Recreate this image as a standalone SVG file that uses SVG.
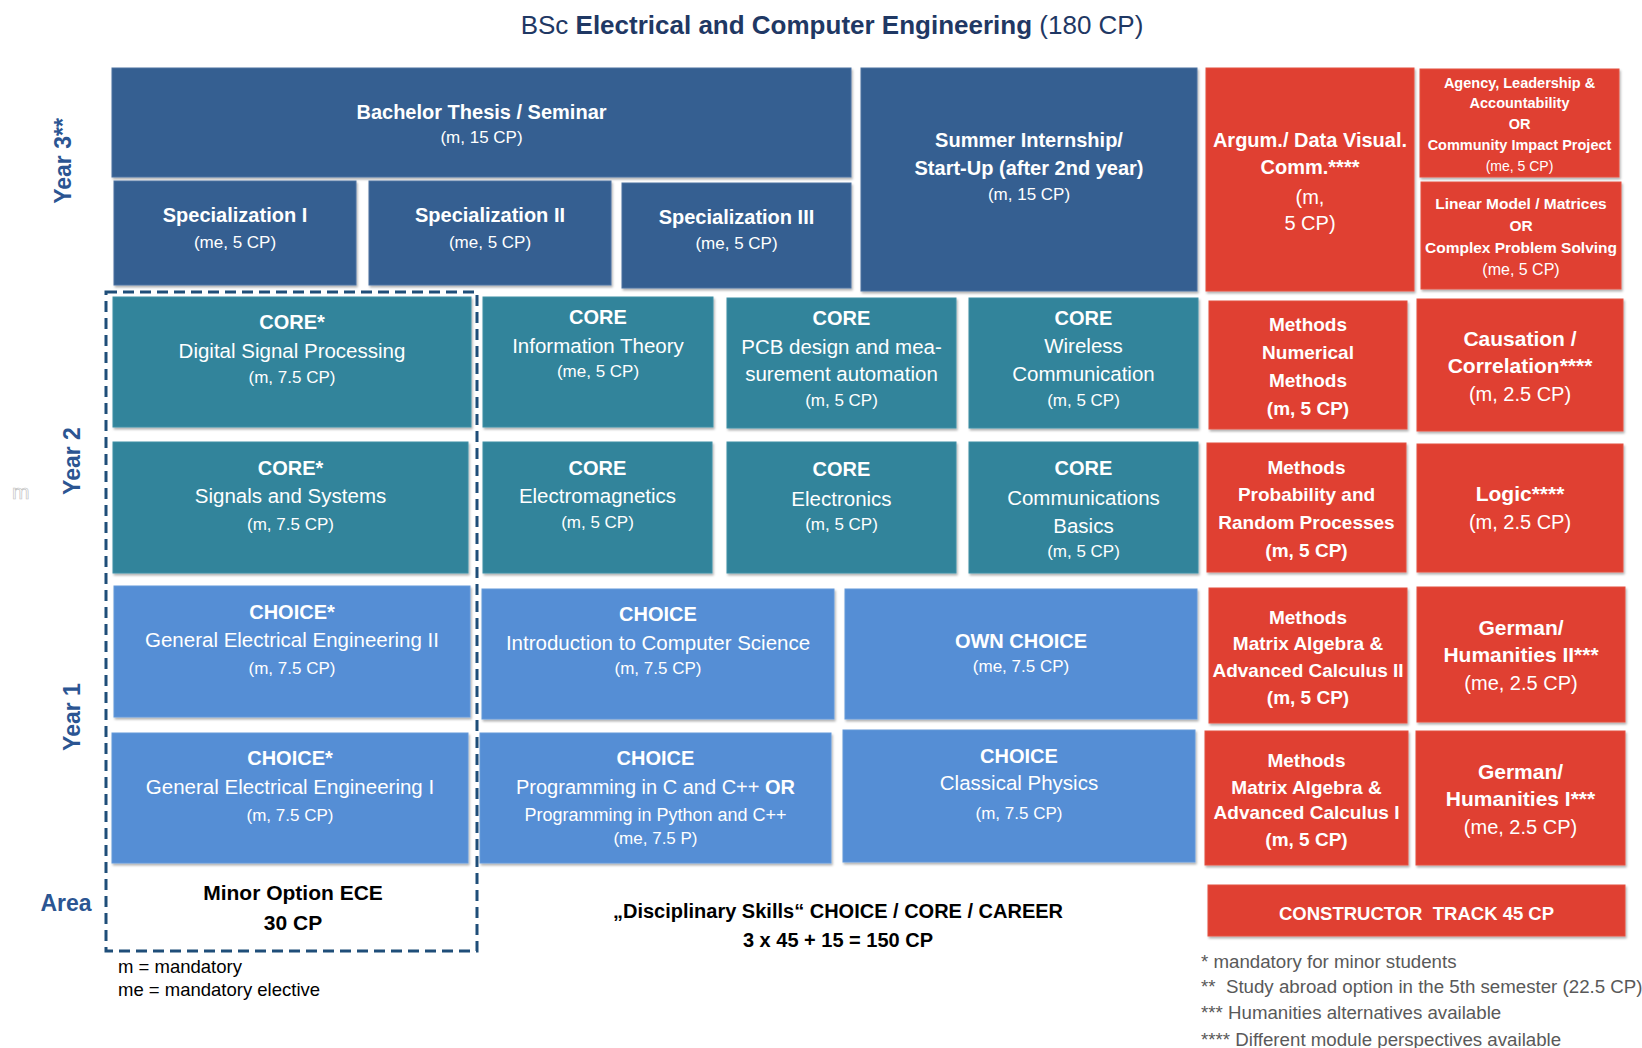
<svg xmlns="http://www.w3.org/2000/svg" width="1642" height="1048" viewBox="0 0 1642 1048">
<defs>
<filter id="sh" x="-5%" y="-5%" width="110%" height="115%">
<feDropShadow dx="1.2" dy="2" stdDeviation="0.9" flood-color="#000" flood-opacity="0.3"/>
</filter>
</defs>
<style>
text{font-family:"Liberation Sans",Arial,sans-serif;}
.box{filter:url(#sh);}
.dk{fill:#365F91;stroke:#4A72A0;stroke-width:1;}
.tl{fill:#31849B;stroke:#3E90A6;stroke-width:1;}
.lb{fill:#558ED5;stroke:#6299DA;stroke-width:1;}
.rd{fill:#E04131;stroke:#E45040;stroke-width:1;}
.w{fill:#fff;text-anchor:middle;}
.h{font-weight:bold;font-size:20px;}
.b{font-size:20.5px;}
.cp{font-size:17px;}
.rb{font-weight:bold;font-size:19px;}
.rb2{font-weight:bold;font-size:21px;}
.r20{font-size:20px;}
.yr{fill:#2B5592;font-weight:bold;font-size:23px;text-anchor:middle;}
.blk{fill:#000;font-weight:bold;text-anchor:middle;}
.note{fill:#595959;font-size:18.7px;}
.leg{fill:#000;font-size:18.5px;}
</style>

<text x="832" y="34" text-anchor="middle" font-size="26" fill="#1F3864">BSc <tspan font-weight="bold">Electrical and Computer Engineering</tspan> (180 CP)</text>

<g id="labels">
<text class="yr" transform="translate(71,161) rotate(-90)">Year 3**</text>
<text class="yr" transform="translate(80,461) rotate(-90)">Year 2</text>
<text class="yr" transform="translate(80,717) rotate(-90)">Year 1</text>
<text class="yr" x="66" y="911">Area</text>
<text x="12" y="499" font-size="21" fill="#fff" stroke="#C4C4C4" stroke-width="0.7">m</text>
</g>

<g id="minor-frame">
<rect x="106" y="292" width="371" height="659" fill="none" stroke="#1F4E79" stroke-width="3" stroke-dasharray="11 6"/>
<text class="blk" x="293" y="900" font-size="21">Minor Option ECE</text>
<text class="blk" x="293" y="930" font-size="21">30 CP</text>
</g>

<g id="thesis"><rect class="box dk" x="112" y="68" width="739" height="109"/>
<text class="w h" x="481.5" y="119">Bachelor Thesis / Seminar</text>
<text class="w cp" x="481.5" y="143">(m, 15 CP)</text></g>

<g id="spec1"><rect class="box dk" x="114" y="181" width="242" height="104"/>
<text class="w h" x="235" y="222">Specialization I</text>
<text class="w cp" x="235" y="248">(me, 5 CP)</text></g>

<g id="spec2"><rect class="box dk" x="369" y="181" width="242" height="104"/>
<text class="w h" x="490" y="222">Specialization II</text>
<text class="w cp" x="490" y="248">(me, 5 CP)</text></g>

<g id="spec3"><rect class="box dk" x="622" y="183" width="229" height="105"/>
<text class="w h" x="736.5" y="224">Specialization III</text>
<text class="w cp" x="736.5" y="249">(me, 5 CP)</text></g>

<g id="summer"><rect class="box dk" x="861" y="68" width="336" height="223"/>
<text class="w h" x="1029" y="147" font-size="20.5">Summer Internship/</text>
<text class="w h" x="1029" y="175" font-size="20.5">Start-Up (after 2nd year)</text>
<text class="w cp" x="1029" y="200">(m, 15 CP)</text></g>

<g id="argum"><rect class="box rd" x="1206" y="68" width="208" height="223"/>
<text class="w h" x="1310" y="147">Argum./ Data Visual.</text>
<text class="w h" x="1310" y="174">Comm.****</text>
<text class="w r20" x="1310" y="204">(m,</text>
<text class="w r20" x="1310" y="230">5 CP)</text></g>

<g id="agency"><rect class="box rd" x="1420" y="69" width="199" height="108"/>
<text class="w" x="1519.5" y="88" font-size="14.5" font-weight="bold">Agency, Leadership &amp;</text>
<text class="w" x="1519.5" y="108" font-size="14.5" font-weight="bold">Accountability</text>
<text class="w" x="1519.5" y="129" font-size="14.5" font-weight="bold">OR</text>
<text class="w" x="1519.5" y="150" font-size="14.5" font-weight="bold">Community Impact Project</text>
<text class="w" x="1519.5" y="171" font-size="14">(me, 5 CP)</text></g>

<g id="linear"><rect class="box rd" x="1421" y="182" width="200" height="107"/>
<text class="w" x="1521" y="209" font-size="15.5" font-weight="bold">Linear Model / Matrices</text>
<text class="w" x="1521" y="231" font-size="15.5" font-weight="bold">OR</text>
<text class="w" x="1521" y="253" font-size="15.5" font-weight="bold">Complex Problem Solving</text>
<text class="w" x="1521" y="275" font-size="16">(me, 5 CP)</text></g>

<g id="dsp"><rect class="box tl" x="113" y="297" width="358" height="130"/>
<text class="w h" x="292" y="329">CORE*</text>
<text class="w b" x="292" y="358">Digital Signal Processing</text>
<text class="w cp" x="292" y="383">(m, 7.5 CP)</text></g>

<g id="info"><rect class="box tl" x="483" y="297" width="230" height="130"/>
<text class="w h" x="598" y="324">CORE</text>
<text class="w b" x="598" y="353">Information Theory</text>
<text class="w cp" x="598" y="377">(me, 5 CP)</text></g>

<g id="pcb"><rect class="box tl" x="727" y="298" width="229" height="130"/>
<text class="w h" x="841.5" y="325">CORE</text>
<text class="w b" x="841.5" y="354">PCB design and mea-</text>
<text class="w b" x="841.5" y="381">surement automation</text>
<text class="w cp" x="841.5" y="406">(m, 5 CP)</text></g>

<g id="wireless"><rect class="box tl" x="969" y="298" width="229" height="130"/>
<text class="w h" x="1083.5" y="325">CORE</text>
<text class="w b" x="1083.5" y="353">Wireless</text>
<text class="w b" x="1083.5" y="381">Communication</text>
<text class="w cp" x="1083.5" y="406">(m, 5 CP)</text></g>

<g id="numerical"><rect class="box rd" x="1209" y="301" width="198" height="128"/>
<text class="w rb" x="1308" y="331">Methods</text>
<text class="w rb" x="1308" y="359">Numerical</text>
<text class="w rb" x="1308" y="387">Methods</text>
<text class="w rb" x="1308" y="415">(m, 5 CP)</text></g>

<g id="causation"><rect class="box rd" x="1417" y="299" width="206" height="132"/>
<text class="w rb2" x="1520" y="346">Causation /</text>
<text class="w rb2" x="1520" y="373">Correlation****</text>
<text class="w r20" x="1520" y="401">(m, 2.5 CP)</text></g>

<g id="signals"><rect class="box tl" x="113" y="442" width="355" height="131"/>
<text class="w h" x="290.5" y="475">CORE*</text>
<text class="w b" x="290.5" y="503">Signals and Systems</text>
<text class="w cp" x="290.5" y="530">(m, 7.5 CP)</text></g>

<g id="electromagnetics"><rect class="box tl" x="483" y="442" width="229" height="131"/>
<text class="w h" x="597.5" y="475">CORE</text>
<text class="w b" x="597.5" y="503">Electromagnetics</text>
<text class="w cp" x="597.5" y="528">(m, 5 CP)</text></g>

<g id="electronics"><rect class="box tl" x="727" y="442" width="229" height="131"/>
<text class="w h" x="841.5" y="476">CORE</text>
<text class="w b" x="841.5" y="506">Electronics</text>
<text class="w cp" x="841.5" y="530">(m, 5 CP)</text></g>

<g id="commbasics"><rect class="box tl" x="969" y="442" width="229" height="131"/>
<text class="w h" x="1083.5" y="475">CORE</text>
<text class="w b" x="1083.5" y="505">Communications</text>
<text class="w b" x="1083.5" y="533">Basics</text>
<text class="w cp" x="1083.5" y="557">(m, 5 CP)</text></g>

<g id="probability"><rect class="box rd" x="1207" y="443" width="199" height="129"/>
<text class="w rb" x="1306.5" y="474">Methods</text>
<text class="w rb" x="1306.5" y="501">Probability and</text>
<text class="w rb" x="1306.5" y="529">Random Processes</text>
<text class="w rb" x="1306.5" y="557">(m, 5 CP)</text></g>

<g id="logic"><rect class="box rd" x="1417" y="444" width="206" height="128"/>
<text class="w rb2" x="1520" y="501">Logic****</text>
<text class="w r20" x="1520" y="529">(m, 2.5 CP)</text></g>

<g id="gee2"><rect class="box lb" x="114" y="586" width="356" height="131"/>
<text class="w h" x="292" y="619">CHOICE*</text>
<text class="w b" x="292" y="647">General Electrical Engineering II</text>
<text class="w cp" x="292" y="674">(m, 7.5 CP)</text></g>

<g id="introcs"><rect class="box lb" x="482" y="589" width="352" height="130"/>
<text class="w h" x="658" y="621">CHOICE</text>
<text class="w b" x="658" y="650">Introduction to Computer Science</text>
<text class="w cp" x="658" y="674">(m, 7.5 CP)</text></g>

<g id="ownchoice"><rect class="box lb" x="845" y="589" width="352" height="130"/>
<text class="w h" x="1021" y="648">OWN CHOICE</text>
<text class="w cp" x="1021" y="672">(me, 7.5 CP)</text></g>

<g id="matrix2"><rect class="box rd" x="1209" y="588" width="198" height="135"/>
<text class="w rb" x="1308" y="624">Methods</text>
<text class="w rb" x="1308" y="650">Matrix Algebra &amp;</text>
<text class="w rb" x="1308" y="677">Advanced Calculus II</text>
<text class="w rb" x="1308" y="704">(m, 5 CP)</text></g>

<g id="german2"><rect class="box rd" x="1417" y="587" width="208" height="135"/>
<text class="w rb2" x="1521" y="635">German/</text>
<text class="w rb2" x="1521" y="662">Humanities II***</text>
<text class="w r20" x="1521" y="690">(me, 2.5 CP)</text></g>

<g id="gee1"><rect class="box lb" x="112" y="733" width="356" height="130"/>
<text class="w h" x="290" y="765">CHOICE*</text>
<text class="w b" x="290" y="794">General Electrical Engineering I</text>
<text class="w cp" x="290" y="821">(m, 7.5 CP)</text></g>

<g id="programming"><rect class="box lb" x="480" y="733" width="351" height="130"/>
<text class="w h" x="655.5" y="765">CHOICE</text>
<text class="w" x="655.5" y="794" font-size="20">Programming in C and C++ <tspan font-weight="bold">OR</tspan></text>
<text class="w" x="655.5" y="821" font-size="18">Programming in Python and C++</text>
<text class="w cp" x="655.5" y="844">(me, 7.5 P)</text></g>

<g id="physics"><rect class="box lb" x="843" y="730" width="352" height="132"/>
<text class="w h" x="1019" y="763">CHOICE</text>
<text class="w b" x="1019" y="790">Classical Physics</text>
<text class="w cp" x="1019" y="819">(m, 7.5 CP)</text></g>

<g id="matrix1"><rect class="box rd" x="1205" y="731" width="203" height="134"/>
<text class="w rb" x="1306.5" y="767">Methods</text>
<text class="w rb" x="1306.5" y="794">Matrix Algebra &amp;</text>
<text class="w rb" x="1306.5" y="819">Advanced Calculus I</text>
<text class="w rb" x="1306.5" y="846">(m, 5 CP)</text></g>

<g id="german1"><rect class="box rd" x="1416" y="731" width="209" height="134"/>
<text class="w rb2" x="1520.5" y="779">German/</text>
<text class="w rb2" x="1520.5" y="806">Humanities I***</text>
<text class="w r20" x="1520.5" y="834">(me, 2.5 CP)</text></g>

<g id="constructor"><rect class="box rd" x="1208" y="885" width="417" height="51"/>
<text class="w" x="1416.5" y="920" font-size="18.5" font-weight="bold" xml:space="preserve">CONSTRUCTOR  TRACK 45 CP</text></g>

<g id="disciplinary">
<text class="blk" x="838" y="918" font-size="20">„Disciplinary Skills“ CHOICE / CORE / CAREER</text>
<text class="blk" x="838" y="947" font-size="20">3 x 45 + 15 = 150 CP</text>
</g>

<g id="legend">
<text class="leg" x="118" y="973">m = mandatory</text>
<text class="leg" x="118" y="996">me = mandatory elective</text>
</g>

<g id="footnotes">
<text class="note" x="1201" y="968">* mandatory for minor students</text>
<text class="note" x="1201" y="993" xml:space="preserve">**  Study abroad option in the 5th semester (22.5 CP)</text>
<text class="note" x="1201" y="1019">*** Humanities alternatives available</text>
<text class="note" x="1201" y="1046">**** Different module perspectives available</text>
</g>

<g id="connectors"></g>
</svg>
